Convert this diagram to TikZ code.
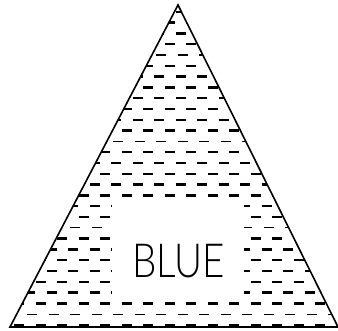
\documentclass[tikz,border=0pt]{standalone}
\usepackage{fontspec}
\newfontfamily\bluefont{Lato Light}
\begin{document}
\begin{tikzpicture}[x=1pt,y=-1pt,
  dashrow/.style={line width=2.4pt, color=black, dash pattern=on 10pt off 11.5pt},
  thinrow/.style={line width=1.1pt, color=black, dash pattern=on 10pt off 11.5pt},
  outline/.style={line width=1.6pt, line join=miter, black},
  whitebox/.style={fill=white, draw=none, inner sep=0pt, minimum width=132pt, minimum height=97pt},
  bluelabel/.style={inner sep=0pt, anchor=base, font=\bluefont\fontsize{47}{47}\selectfont}]
\useasboundingbox (0,0) rectangle (338,331);
\coordinate (apex) at (178,5);
\coordinate (L) at (10,327);
\coordinate (R) at (338,327);
\begin{scope}
  \clip (apex) -- (L) -- (R) -- cycle;
  \foreach \k in {-4,...,25}{
    \pgfmathsetmacro\yy{55+10.8*\k}
    \pgfmathtruncatemacro\rowpar{mod(\k+100,2)}
    \pgfmathtruncatemacro\roweig{mod(\k+96,8)}
    \ifnum\roweig=0
      \draw[thinrow] (5.5-21.5,\yy) -- (360,\yy);
    \else
      \ifnum\rowpar=1
        \draw[dashrow] (14-21.5,\yy) -- (360,\yy);
      \else
        \draw[dashrow] (3.5-21.5,\yy) -- (360,\yy);
      \fi
    \fi
  }
\end{scope}
\node[whitebox] (box) at (178,248.5) {};
\node[bluelabel] (label) at (178.5,277.5) {\scalebox{0.82}[1]{BLUE}};
\draw[outline] (apex) -- (L) -- (R) -- cycle;
\end{tikzpicture}
\end{document}
